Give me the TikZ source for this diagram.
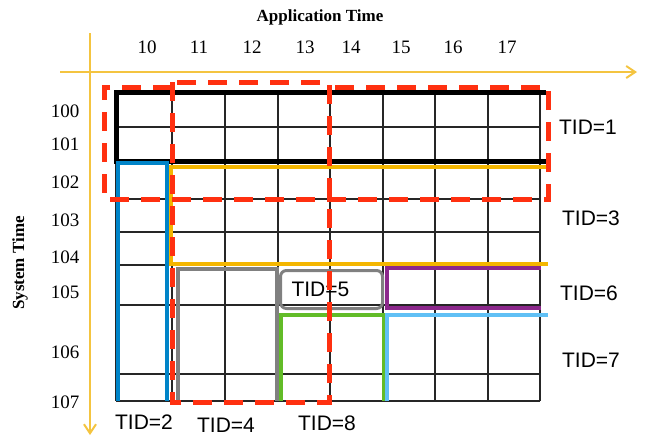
\documentclass[tikz,border=0pt]{standalone}
\usepackage{fontspec}
\setmainfont{Liberation Serif}
\setsansfont{Liberation Sans}
\usepackage{tikz}
\usetikzlibrary{arrows.meta}
\definecolor{AxisYellow}{RGB}{244,196,64}
\definecolor{TidOrange} {RGB}{244,182,0}
\definecolor{TidBlue}   {RGB}{0,  132,200}
\definecolor{TidGray}   {RGB}{128,128,128}
\definecolor{TidGreen}  {RGB}{98, 188,40}
\definecolor{TidSky}    {RGB}{96, 192,245}
\definecolor{TidPurple} {RGB}{140,40, 140}
\definecolor{DashRed}   {RGB}{255,48, 16}

\begin{document}
\begin{tikzpicture}[x=1pt,y=-1pt,
    gridline/.style={line width=1.2pt,black!85},
    region/.style={line width=4.5pt},
    dashbox/.style={DashRed,line width=5pt,dash pattern=on 19pt off 12pt},
    axis/.style={AxisYellow,line width=1.2pt,-{Straight Barb[length=9pt,width=12pt,line width=2pt]}},
    num/.style={font=\fontsize{19}{19}\selectfont},
    axislbl/.style={font=\bfseries\fontsize{17}{17}\selectfont},
    tid/.style={font=\sffamily\fontsize{21}{21}\selectfont}]
  \useasboundingbox (0,0) rectangle (649,437);
  % axes
  \coordinate (xs) at (60,72);  \coordinate (xe) at (637,72);
  \coordinate (ys) at (90,33);  \coordinate (ye) at (90,435);
  \draw[axis] (xs) -- (xe);
  \draw[axis] (ys) -- (ye);
  \node[axislbl] (apptime) at (320,17) {Application Time};
  \node[axislbl,rotate=90] (systime) at (20,263) {System Time};
  \foreach \n/\x in {10/147,11/199,12/252,13/305,14/351,15/401,16/453,17/507}
    \node[num] (c\n) at (\x,47) {\n};
  \foreach \n/\y in {100/111,101/144,102/182,103/220,104/257,105/292,106/352,107/402}
    \node[num] (r\n) at (65,\y) {\n};
  % grid
  \foreach \x in {116,172,225,278,330,383,435,488,540}
    \draw[gridline] (\x,92) -- (\x,401);
  \foreach \y in {92,127,161,199,232,265,305,374,401}
    \draw[gridline] (116,\y) -- (540,\y);
  % transactions
  \draw[region,black,line width=5pt] (546,92) -- (116,92) -- (116,161) -- (546,161);
  \draw[region,TidBlue] (118,401) -- (118,163) -- (167,163) -- (167,401);
  \draw[region,TidOrange] (548,167) -- (171,167) -- (171,264) -- (548,264);
  \draw[region,TidGray] (178,401) -- (178,269) -- (279,269);
  \draw[region,TidGray] (277,269) -- (277,401);
  \node[tid,draw=TidGray,line width=3pt,rounded corners=6pt,anchor=north west,
        minimum height=38pt,text width=80pt,inner xsep=11pt] (tid5) at (279,269) {TID=5};
  \draw[region,TidGreen] (281,401) -- (281,315) -- (384,315) -- (384,401);
  \draw[region,TidSky] (387,401) -- (387,315) -- (548,315);
  \draw[region,TidPurple] (541,268) -- (387,268) -- (387,308) -- (541,308);
  % windows
  \draw[dashbox] (172,87) -- (104,87) -- (104,199) -- (548,199) -- (548,87) -- (329,87);
  \draw[dashbox] (172,82) rectangle (329,402);
  % labels
  \node[tid] (tid1) at (588,127) {TID=1};
  \node[tid] (tid3) at (591,218) {TID=3};
  \node[tid] (tid6) at (589,293) {TID=6};
  \node[tid] (tid7) at (591,360) {TID=7};
  \node[tid] (tid2) at (144,422) {TID=2};
  \node[tid] (tid4) at (226,425) {TID=4};
  \node[tid] (tid8) at (327,423) {TID=8};
\end{tikzpicture}
\end{document}
